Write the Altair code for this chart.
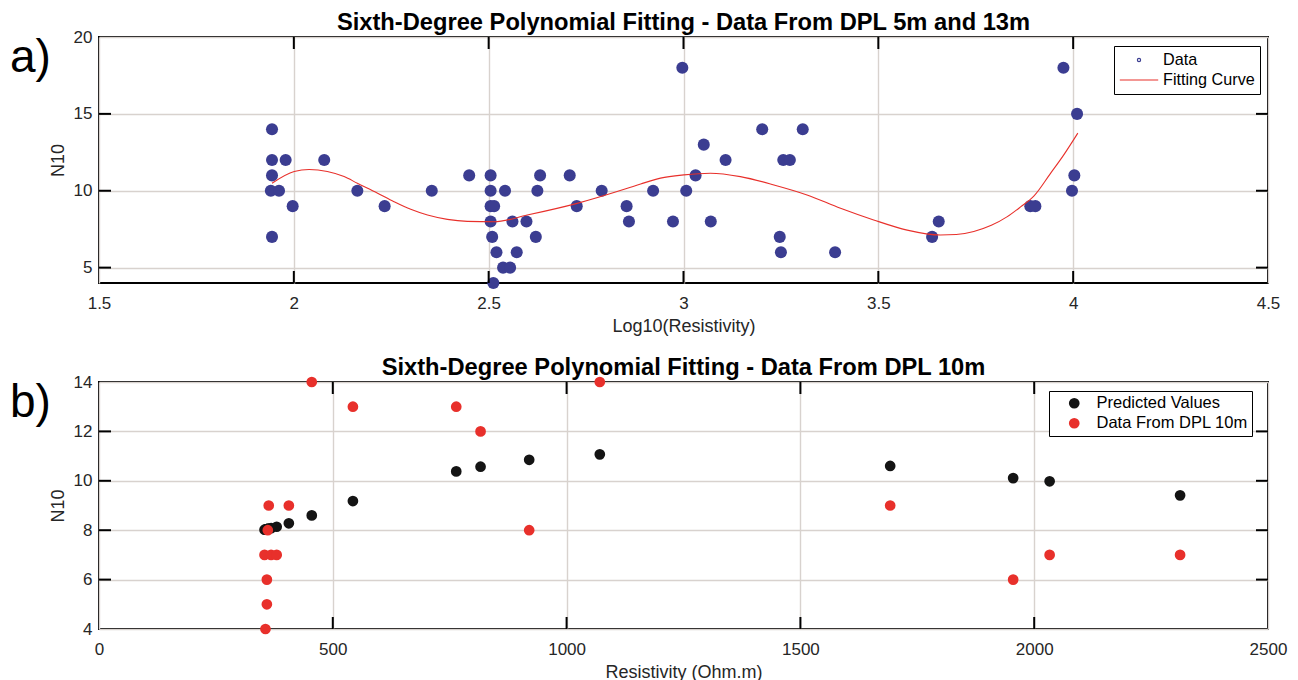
import altair as alt
import pandas as pd

# ---------------- data: panel a ----------------
top_x = [1.944, 1.944, 1.979, 2.078, 1.944, 1.941, 1.962, 1.997, 1.944, 2.163,
         2.233, 2.354, 2.450, 2.505, 2.505, 2.542, 2.505, 2.514, 2.505, 2.561,
         2.597, 2.509, 2.621, 2.520, 2.572, 2.537, 2.555, 2.512, 2.632, 2.625,
         2.708, 2.726, 2.790, 2.854, 2.860, 2.922, 2.997, 3.007, 2.973, 3.031,
         3.052, 3.070, 3.108, 3.202, 3.256, 3.273, 3.306, 3.247, 3.250, 3.389,
         3.638, 3.655, 3.890, 3.903, 3.975, 4.010, 4.003, 3.997]
top_y = [14, 12, 12, 12, 11, 10, 10, 9, 7, 10,
         9, 10, 11, 11, 10, 10, 9, 9, 8, 8,
         8, 7, 7, 6, 6, 5, 5, 4, 11, 10,
         11, 9, 10, 9, 8, 10, 18, 10, 8, 11,
         13, 8, 12, 14, 12, 12, 14, 7, 6, 6,
         7, 8, 9, 9, 18, 15, 11, 10]

curve_x = [1.944, 2.001, 2.039, 2.086, 2.129, 2.163, 2.215, 2.257, 2.300, 2.343,
           2.394, 2.445, 2.514, 2.599, 2.727, 2.856, 2.890, 2.941, 3.001, 3.069,
           3.146, 3.232, 3.317, 3.403, 3.488, 3.574, 3.659, 3.700, 3.745, 3.790,
           3.830, 3.865, 3.899, 3.941, 3.975, 4.012]
curve_y = [10.49, 11.25, 11.38, 11.25, 10.92, 10.49, 9.84, 9.29, 8.79, 8.42,
           8.14, 8.01, 7.98, 8.42, 9.18, 10.16, 10.44, 10.82, 11.03, 11.14,
           10.92, 10.38, 9.73, 8.86, 8.10, 7.44, 7.12, 7.15, 7.35, 7.75,
           8.30, 8.95, 9.65, 11.10, 12.30, 13.75]

# ---------------- data: panel b ----------------
res_x = [356, 359, 359, 354, 368, 380, 361, 363, 406, 455,
         543, 764, 816, 920, 1071, 1692, 1955, 2033, 2312]
obs_y = [4, 5, 6, 7, 7, 7, 8, 9, 9, 14,
         13, 13, 12, 8, 14, 9, 6, 7, 7]
pred_y = [8.03, 8.04, 8.04, 8.02, 8.08, 8.14, 8.05, 8.06, 8.28, 8.60,
          9.18, 10.38, 10.57, 10.85, 11.07, 10.60, 10.11, 9.98, 9.41]

legend_a = ["Data", "Fitting Curve"]
legend_b = ["Predicted Values", "Data From DPL 10m"]

FONT = "Liberation Sans"
W = 1169
H1 = 246
H2 = 247
TL = 12  # inner tick length

NAVY = "#3b3d91"
RED = "#e8302b"
BLACK = "#141414"
GRID = "#d8d2ce"
TXT = "#262626"

# ---------------- panel a ----------------
df_top = pd.DataFrame({"x": top_x, "y": top_y})
df_curve = pd.DataFrame({"x": curve_x, "y": curve_y})
df_leg_a = pd.DataFrame({"s": legend_a})

xs_a = alt.Scale(domain=[1.5, 4.5], nice=False, zero=False)
ys_a = alt.Scale(domain=[4, 20], nice=False, zero=False)
xax_a = alt.Axis(title="Log10(Resistivity)", values=[1.5, 2, 2.5, 3, 3.5, 4, 4.5],
                 format="~g", grid=True, ticks=False, domain=False,
                 labelPadding=12.5, titlePadding=5.5, labelFlush=False)
yax_a = alt.Axis(title="N10", values=[5, 10, 15, 20], format="d", grid=True,
                 ticks=False, domain=False, labelPadding=7, titlePadding=6,
                 labelFlush=False)

Xa = alt.X("x:Q", scale=xs_a, axis=xax_a)
Ya = alt.Y("y:Q", scale=ys_a, axis=yax_a)

pts_a = alt.Chart(df_top).mark_circle(size=145, color=NAVY, opacity=1).encode(x=Xa, y=Ya)
line_a = alt.Chart(df_curve).mark_line(color=RED, strokeWidth=1.1,
                                       interpolate="monotone").encode(x=Xa, y=Ya)

dot_path = "M -0.2 0 A 0.2 0.2 0 1 0 0.2 0 A 0.2 0.2 0 1 0 -0.2 0 Z"
line_path = "M -2.4 0 L 2.4 0"
leg_a = alt.Legend(title=None, orient="none", legendX=1015, legendY=9,
                   strokeColor="black", fillColor="white", padding=5,
                   labelFont=FONT, labelFontSize=16.2, labelColor="black",
                   symbolSize=256, symbolOpacity=1, symbolStrokeWidth=1.2,
                   symbolFillColor=NAVY,
                   symbolOffset=11, labelOffset=15, rowPadding=2)
proxy_a = alt.Chart(df_leg_a).mark_point(opacity=0, filled=False).encode(
    color=alt.Color("s:N", scale=alt.Scale(domain=legend_a, range=[NAVY, RED]),
                    legend=leg_a),
    shape=alt.Shape("s:N", scale=alt.Scale(domain=legend_a, range=[dot_path, line_path]),
                    legend=leg_a),
)

df_xt_a = pd.DataFrame({"x": [2, 2.5, 3, 3.5, 4]})
df_yt_a = pd.DataFrame({"y": [5, 10, 15]})
rule_kw = dict(color="black", strokeWidth=2)
tk_a = [
    alt.Chart(df_xt_a).mark_rule(**rule_kw).encode(x=Xa, y=alt.value(H1), y2=alt.value(H1 - TL)),
    alt.Chart(df_xt_a).mark_rule(**rule_kw).encode(x=Xa, y=alt.value(0), y2=alt.value(TL)),
    alt.Chart(df_yt_a).mark_rule(**rule_kw).encode(y=Ya, x=alt.value(0), x2=alt.value(TL)),
    alt.Chart(df_yt_a).mark_rule(**rule_kw).encode(y=Ya, x=alt.value(W), x2=alt.value(W - TL)),
]
# panel letter: top baseline so its bounds stay inside the plot band
lab_a = alt.Chart(pd.DataFrame({"t": ["a)"]})).mark_text(
    font=FONT, fontSize=46, align="left", baseline="top", color="black"
).encode(text="t:N", x=alt.value(-89), y=alt.value(-1))

title_kw = dict(font=FONT, fontSize=23.7, fontWeight="bold", color="black",
                anchor="middle", frame="group", offset=-7)

top = alt.layer(pts_a, line_a, proxy_a, *tk_a, lab_a).properties(
    width=W, height=H1,
    title=alt.TitleParams("Sixth-Degree Polynomial Fitting - Data From DPL 5m and 13m", **title_kw),
)

# ---------------- panel b ----------------
df_b = pd.DataFrame({
    "x": res_x + res_x,
    "y": pred_y + obs_y,
    "s": [legend_b[0]] * len(res_x) + [legend_b[1]] * len(res_x),
})

xs_b = alt.Scale(domain=[0, 2500], nice=False, zero=False)
ys_b = alt.Scale(domain=[4, 14], nice=False, zero=False)
xax_b = alt.Axis(title="Resistivity (Ohm.m)", values=[0, 500, 1000, 1500, 2000, 2500],
                 format="d", grid=True, ticks=False, domain=False,
                 labelPadding=12.5, titlePadding=6, labelFlush=False)
yax_b = alt.Axis(title="N10", values=[4, 6, 8, 10, 12, 14], format="d", grid=True,
                 ticks=False, domain=False, labelPadding=7, titlePadding=6,
                 labelFlush=False)
Xb = alt.X("x:Q", scale=xs_b, axis=xax_b)
Yb = alt.Y("y:Q", scale=ys_b, axis=yax_b)

leg_b = alt.Legend(title=None, orient="none", legendX=950, legendY=9,
                   strokeColor="black", fillColor="white", padding=4,
                   labelFont=FONT, labelFontSize=16.5, labelColor="black",
                   symbolSize=115, symbolOffset=13, labelOffset=14, rowPadding=3,
                   symbolType="circle")
pts_b = alt.Chart(df_b).mark_circle(size=115, opacity=1).encode(
    x=Xb, y=Yb,
    color=alt.Color("s:N", scale=alt.Scale(domain=legend_b, range=[BLACK, RED]), legend=leg_b),
)

df_xt_b = pd.DataFrame({"x": [500, 1000, 1500, 2000]})
df_yt_b = pd.DataFrame({"y": [6, 8, 10, 12]})
tk_b = [
    alt.Chart(df_xt_b).mark_rule(**rule_kw).encode(x=Xb, y=alt.value(H2), y2=alt.value(H2 - TL)),
    alt.Chart(df_xt_b).mark_rule(**rule_kw).encode(x=Xb, y=alt.value(0), y2=alt.value(TL)),
    alt.Chart(df_yt_b).mark_rule(**rule_kw).encode(y=Yb, x=alt.value(0), x2=alt.value(TL)),
    alt.Chart(df_yt_b).mark_rule(**rule_kw).encode(y=Yb, x=alt.value(W), x2=alt.value(W - TL)),
]
lab_b = alt.Chart(pd.DataFrame({"t": ["b)"]})).mark_text(
    font=FONT, fontSize=46, align="left", baseline="top", color="black"
).encode(text="t:N", x=alt.value(-89), y=alt.value(-1))

bottom = alt.layer(pts_b, *tk_b, lab_b).properties(
    width=W, height=H2,
    title=alt.TitleParams("Sixth-Degree Polynomial Fitting - Data From DPL 10m", **title_kw),
)

chart = alt.vconcat(top, bottom, spacing=19).resolve_scale(
    color="independent", shape="independent"
).resolve_legend(
    color="independent", shape="independent"
).properties(
    padding={"left": 9, "top": 10, "right": 5, "bottom": 0},
    background="white",
).configure_view(
    stroke="black", strokeWidth=2
).configure_axis(
    labelFont=FONT, labelFontSize=17, labelColor=TXT,
    titleFont=FONT, titleFontSize=18, titleFontWeight="normal", titleColor=TXT,
    gridColor=GRID, gridWidth=1.4, gridOpacity=1,
)

chart.save("out.html", embed_options={"renderer": "svg", "actions": False})
